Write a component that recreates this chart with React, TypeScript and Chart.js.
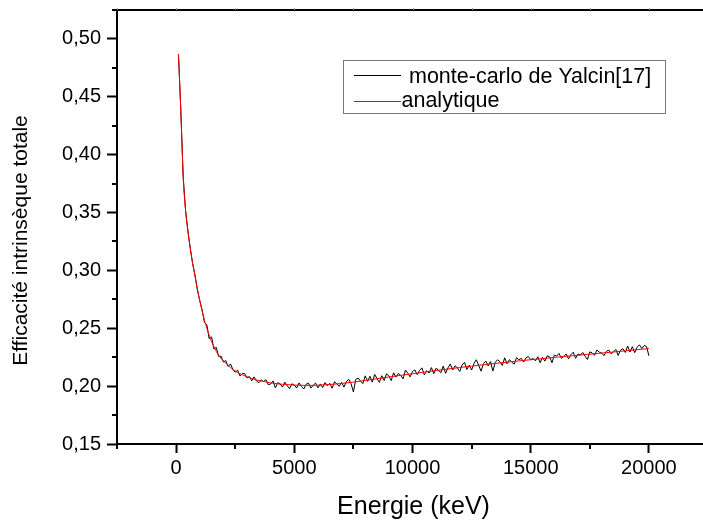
import React, { useEffect, useRef } from 'react';
import { Chart, registerables } from 'chart.js';

Chart.register(...registerables);

// ---- Axis ticks ----
const xTickValues = [0, 5000, 10000, 15000, 20000];
const xTickLabels = ['0', '5000', '10000', '15000', '20000'];
const xMinorTicks = [-2500, 2500, 7500, 12500, 17500];
const yTickValues = [0.15, 0.2, 0.25, 0.3, 0.35, 0.4, 0.45, 0.5];
const yTickLabels = ['0,15', '0,20', '0,25', '0,30', '0,35', '0,40', '0,45', '0,50'];
const yMinorTicks = [0.175, 0.225, 0.275, 0.325, 0.375, 0.425, 0.475, 0.525];

// ---- Texts ----
const xTitle = 'Energie (keV)';
const yTitle = 'Efficacité intrinsèque totale';
const seriesNames = ['monte-carlo de Yalcin[17]', 'analytique'];

// ---- Monte-Carlo series (sampled every 100 keV, from 100 keV to 20000 keV) ----
const mcEfficiency = [
  0.487, 0.438, 0.381, 0.352, 0.334, 0.319, 0.306, 0.296, 0.283, 0.274,
  0.266, 0.255, 0.253, 0.241, 0.2425, 0.232, 0.2335, 0.2255, 0.226, 0.2208,
  0.2221, 0.217, 0.2192, 0.2145, 0.2121, 0.2138, 0.2088, 0.2108, 0.2109, 0.207,
  0.2083, 0.2046, 0.208, 0.2044, 0.2029, 0.2054, 0.204, 0.2056, 0.2012, 0.2018,
  0.2045, 0.1985, 0.203, 0.2018, 0.1992, 0.2034, 0.2003, 0.1978, 0.202, 0.2009,
  0.1984, 0.2028, 0.1997, 0.1975, 0.2016, 0.2026, 0.1983, 0.2007, 0.2027, 0.1985,
  0.2019, 0.1988, 0.2031, 0.2003, 0.2024, 0.1982, 0.2038, 0.202, 0.1998, 0.2033,
  0.1992, 0.2037, 0.206, 0.2022, 0.195, 0.2058, 0.207, 0.2043, 0.2022, 0.2089,
  0.2042, 0.2085, 0.2034, 0.2101, 0.2064, 0.2033, 0.209, 0.2049, 0.2106, 0.2089,
  0.2048, 0.2115, 0.2078, 0.211, 0.2093, 0.2062, 0.2139, 0.2112, 0.208, 0.2127,
  0.214, 0.2099, 0.2136, 0.2158, 0.2097, 0.2134, 0.2113, 0.216, 0.2108, 0.2155,
  0.2138, 0.2116, 0.2173, 0.2111, 0.2158, 0.2191, 0.2139, 0.2176, 0.2158, 0.2127,
  0.2183, 0.2206, 0.2144, 0.2181, 0.2139, 0.2195, 0.2228, 0.218, 0.2129, 0.2195,
  0.2217, 0.2175, 0.2212, 0.213, 0.2206, 0.2228, 0.221, 0.2179, 0.2245, 0.2193,
  0.2229, 0.2207, 0.219, 0.2246, 0.2228, 0.224, 0.2208, 0.2244, 0.2256, 0.2228,
  0.224, 0.2218, 0.2254, 0.2202, 0.2248, 0.2216, 0.2262, 0.2254, 0.2202, 0.2268,
  0.226, 0.2282, 0.224, 0.2256, 0.2278, 0.2236, 0.2272, 0.2293, 0.2241, 0.2277,
  0.2269, 0.2291, 0.2259, 0.223, 0.2296, 0.2288, 0.2266, 0.2312, 0.2294, 0.2286,
  0.2264, 0.23, 0.2312, 0.228, 0.2295, 0.2317, 0.2265, 0.2311, 0.2323, 0.2291,
  0.2347, 0.2295, 0.2341, 0.2289, 0.2335, 0.2357, 0.2325, 0.2351, 0.2343, 0.2262,
];
const mcEnergies = mcEfficiency.map((_, i) => (i + 1) * 100);

// ---- Analytic series ----
const analyticEnergies = [
  100, 200, 300, 400, 500, 600, 700, 800, 900, 1000,
  1100, 1200, 1300, 1400, 1500, 1600, 1700, 1800, 1900, 2000,
  2200, 2400, 2600, 2800, 3000, 3200, 3400, 3600, 3800, 4000,
  4500, 5000, 5500, 6000, 6500, 7000, 7500, 8000, 8500, 9000,
  9500, 10000, 10500, 11000, 11500, 12000, 12500, 13000, 13500, 14000,
  14500, 15000, 15500, 16000, 16500, 17000, 17500, 18000, 18500, 19000,
  19500, 20000,
];
const analyticEfficiency = [
  0.487, 0.438, 0.381, 0.352, 0.334, 0.319, 0.306, 0.295, 0.284, 0.274,
  0.265, 0.257, 0.25, 0.244, 0.2385, 0.234, 0.23, 0.2265, 0.224, 0.2218,
  0.218, 0.2145, 0.2118, 0.2098, 0.208, 0.2066, 0.2054, 0.2044, 0.2036, 0.2028,
  0.2016, 0.2009, 0.2006, 0.2008, 0.2014, 0.2023, 0.2035, 0.2049, 0.2064, 0.2079,
  0.2093, 0.2107, 0.2121, 0.2135, 0.2148, 0.2161, 0.2173, 0.2185, 0.2196, 0.2207,
  0.2218, 0.2228, 0.2238, 0.2248, 0.2258, 0.2267, 0.2276, 0.2286, 0.2295, 0.2305,
  0.2315, 0.2325,
];

const FONT = '"Liberation Sans", Arial, Helvetica, sans-serif';

const framePlugin = {
  id: 'originFrame',
  afterDraw(chart: any) {
    const { ctx, chartArea, scales } = chart;
    const xs = scales.x;
    const ys = scales.y;
    ctx.save();
    ctx.strokeStyle = '#000';
    ctx.lineWidth = 2;
    // top frame line
    ctx.beginPath();
    ctx.moveTo(chartArea.left - 1, chartArea.top);
    ctx.lineTo(chartArea.right, chartArea.top);
    ctx.stroke();
    // minor ticks
    ctx.beginPath();
    for (const v of xMinorTicks) {
      const x = Math.round(xs.getPixelForValue(v));
      ctx.moveTo(x, chartArea.bottom);
      ctx.lineTo(x, chartArea.bottom + 5);
    }
    for (const v of yMinorTicks) {
      const y = Math.round(ys.getPixelForValue(v));
      ctx.moveTo(chartArea.left, y);
      ctx.lineTo(chartArea.left - 5, y);
    }
    ctx.stroke();
    // small ticks on the top line
    ctx.lineWidth = 1;
    ctx.strokeStyle = '#999';
    ctx.beginPath();
    for (const v of [...xTickValues, ...xMinorTicks]) {
      const x = Math.round(xs.getPixelForValue(v)) + 0.5;
      ctx.moveTo(x, chartArea.top);
      ctx.lineTo(x, chartArea.top - 2);
    }
    ctx.stroke();

    // legend box
    ctx.strokeStyle = '#777';
    ctx.lineWidth = 1;
    ctx.strokeRect(343.5, 60.5, 322, 53);
    ctx.strokeStyle = '#000000';
    ctx.beginPath();
    ctx.moveTo(354, 75.5);
    ctx.lineTo(401, 75.5);
    ctx.stroke();
    ctx.strokeStyle = '#ff0000';
    ctx.lineWidth = 1.2;
    ctx.beginPath();
    ctx.moveTo(354, 101.5);
    ctx.lineTo(401, 101.5);
    ctx.stroke();
    ctx.fillStyle = '#000';
    ctx.font = `21.5px ${FONT}`;
    ctx.textAlign = 'left';
    ctx.textBaseline = 'alphabetic';
    ctx.fillText(seriesNames[0], 409, 82.5);
    ctx.fillText(seriesNames[1], 401.5, 107);

    // axis titles
    ctx.font = `25px ${FONT}`;
    ctx.textAlign = 'center';
    ctx.fillText(xTitle, (chartArea.left + chartArea.right) / 2 + 1, 514);
    ctx.save();
    ctx.translate(21.5, 240.5);
    ctx.rotate(-Math.PI / 2);
    ctx.font = `21px ${FONT}`;
    ctx.textBaseline = 'middle';
    ctx.fillText(yTitle, 0, 0);
    ctx.restore();
    ctx.restore();
  },
};

export default function App() {
  const canvasRef = useRef<HTMLCanvasElement | null>(null);

  useEffect(() => {
    if (!canvasRef.current) return;
    const chart = new Chart(canvasRef.current, {
      type: 'line',
      data: {
        datasets: [
          {
            label: seriesNames[1],
            data: analyticEnergies.map((e, i) => ({ x: e, y: analyticEfficiency[i] })),
            borderColor: '#ff0000',
            borderWidth: 1,
            pointRadius: 0,
            cubicInterpolationMode: 'monotone',
            fill: false,
          },
          {
            label: seriesNames[0],
            data: mcEnergies.map((e, i) => ({ x: e, y: mcEfficiency[i] })),
            borderColor: '#000000',
            borderWidth: 1,
            pointRadius: 0,
            tension: 0,
            fill: false,
          },
        ],
      },
      options: {
        animation: false,
        responsive: false,
        devicePixelRatio: 1,
        layout: { padding: { top: 10, left: 0, right: 0, bottom: 0 } },
        plugins: { legend: { display: false }, tooltip: { enabled: false } },
        events: [],
        scales: {
          x: {
            type: 'linear',
            min: -2500,
            max: 22500,
            afterBuildTicks: (scale: any) => {
              scale.ticks = xTickValues.map((v) => ({ value: v }));
            },
            afterFit: (scale: any) => {
              scale.height = 79;
              scale.paddingLeft = 0;
              scale.paddingRight = 0;
              scale.paddingTop = 0;
              scale.paddingBottom = 0;
            },
            ticks: {
              autoSkip: false,
              maxRotation: 0,
              padding: 3,
              color: '#000',
              font: { family: FONT, size: 20 },
              callback: (_v: any, i: number) => xTickLabels[i],
            },
            grid: {
              display: true,
              drawOnChartArea: false,
              drawTicks: true,
              tickLength: 9,
              tickWidth: 2,
              tickColor: '#000',
            },
            border: { display: true, color: '#000', width: 2 },
          },
          y: {
            type: 'linear',
            min: 0.15,
            max: 0.525,
            afterBuildTicks: (scale: any) => {
              scale.ticks = yTickValues.map((v) => ({ value: v }));
            },
            afterFit: (scale: any) => {
              scale.width = 117;
              scale.paddingLeft = 0;
              scale.paddingRight = 0;
              scale.paddingTop = 0;
              scale.paddingBottom = 0;
            },
            ticks: {
              autoSkip: false,
              padding: 6,
              color: '#000',
              font: { family: FONT, size: 20 },
              callback: (_v: any, i: number) => yTickLabels[i],
            },
            grid: {
              display: true,
              drawOnChartArea: false,
              drawTicks: true,
              tickLength: 10,
              tickWidth: 2,
              tickColor: '#000',
            },
            border: { display: true, color: '#000', width: 2 },
          },
        },
      } as any,
      plugins: [framePlugin],
    });
    return () => chart.destroy();
  }, []);

  return (
    <div
      style={{
        position: 'absolute',
        left: 0,
        top: 0,
        width: 703,
        height: 523,
        overflow: 'hidden',
        background: '#fff',
      }}
    >
      <canvas ref={canvasRef} width={708} height={523} style={{ width: 708, height: 523, display: 'block' }} />
    </div>
  );
}
